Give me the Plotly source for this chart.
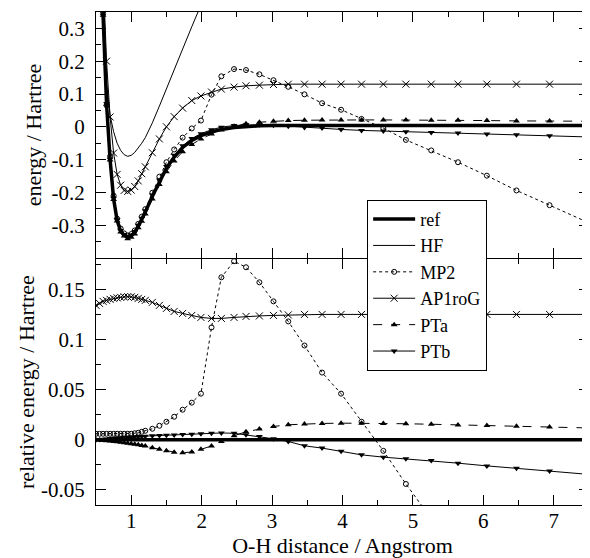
import plotly.graph_objects as go

# O-H distance grid (Angstrom)
r_oh = [0.50, 0.55, 0.60, 0.65, 0.70, 0.75, 0.80, 0.85, 0.90, 0.95,
        1.00, 1.05, 1.10, 1.15, 1.20, 1.30, 1.40, 1.50, 1.61, 1.73,
        1.86, 1.99, 2.14, 2.28, 2.46, 2.63, 2.82, 3.02, 3.23, 3.46,
        3.71, 3.98, 4.27, 4.58, 4.90, 5.26, 5.64, 6.05, 6.47, 6.94, 7.50]

# absolute energies (Hartree), upper panel
ref_e = [1.0, 0.62, 0.34, 0.07, -0.10, -0.22, -0.285, -0.318, -0.330, -0.337,
         -0.333, -0.322, -0.303, -0.282, -0.260, -0.212, -0.166, -0.126, -0.092, -0.063,
         -0.042, -0.027, -0.016, -0.008, -0.002, 0.001, 0.003, 0.004, 0.004, 0.004,
         0.004, 0.004, 0.004, 0.004, 0.004, 0.004, 0.004, 0.004, 0.004, 0.004, 0.004]
hf_e = [0.85, 0.55, 0.30, 0.13, 0.035, -0.015, -0.05, -0.072, -0.085, -0.09,
        -0.087, -0.078, -0.065, -0.05, -0.033, 0.012, 0.063, 0.117, 0.175, 0.237,
        0.305, 0.372, 0.45, 0.52, None, None, None, None, None, None,
        None, None, None, None, None, None, None, None, None, None, None]
mp2_e = [1.0, 0.63, 0.35, 0.065, -0.09, -0.21, -0.28, -0.31, -0.325, -0.331,
         -0.327, -0.316, -0.296, -0.274, -0.251, -0.201, -0.152, -0.108, -0.069, -0.033,
         -0.005, 0.019, 0.098, 0.154, 0.176, 0.173, 0.160, 0.142, 0.122, 0.099,
         0.072, 0.052, 0.024, -0.004, -0.040, -0.072, -0.108, -0.149, -0.194, -0.239, -0.293]
ap1rog_e = [1.1, 0.75, 0.47, 0.20, 0.03, -0.08, -0.145, -0.178, -0.194, -0.197,
            -0.193, -0.182, -0.165, -0.143, -0.122, -0.079, -0.037, 0.000, 0.031, 0.057,
            0.080, 0.094, 0.106, 0.115, 0.121, 0.125, 0.127, 0.129, 0.130, 0.130,
            0.130, 0.130, 0.130, 0.130, 0.130, 0.130, 0.130, 0.130, 0.130, 0.130, 0.130]
pta_e = [1.0, 0.62, 0.34, 0.069, -0.101, -0.222, -0.287, -0.321, -0.333, -0.341,
         -0.337, -0.327, -0.308, -0.288, -0.266, -0.220, -0.176, -0.137, -0.104, -0.076,
         -0.054, -0.037, -0.022, -0.010, 0.002, 0.009, 0.014, 0.017, 0.019, 0.020,
         0.021, 0.021, 0.021, 0.021, 0.021, 0.020, 0.020, 0.019, 0.018, 0.018, 0.017]
ptb_e = [1.0, 0.62, 0.34, 0.071, -0.099, -0.218, -0.283, -0.316, -0.328, -0.334,
         -0.330, -0.319, -0.300, -0.279, -0.256, -0.208, -0.162, -0.121, -0.087, -0.058,
         -0.036, -0.021, -0.009, -0.001, 0.004, 0.006, 0.006, 0.005, 0.002, -0.002,
         -0.004, -0.008, -0.011, -0.013, -0.015, -0.017, -0.019, -0.022, -0.024, -0.027, -0.031]

# energies relative to ref (Hartree), lower panel
ref_rel = [0.0] * 41
mp2_rel = [0.006, 0.006, 0.006, 0.006, 0.006, 0.006, 0.006, 0.006, 0.006, 0.006,
           0.006, 0.0065, 0.007, 0.008, 0.009, 0.011, 0.014, 0.018, 0.023, 0.030,
           0.037, 0.046, 0.112, 0.162, 0.178, 0.172, 0.157, 0.138, 0.118, 0.094,
           0.067, 0.046, 0.018, -0.011, -0.044, -0.080, -0.115, -0.150, -0.190, -0.235, -0.290]
ap1rog_rel = [0.134, 0.136, 0.138, 0.139, 0.140, 0.141, 0.1415, 0.142, 0.1425, 0.1427,
              0.1425, 0.142, 0.141, 0.140, 0.139, 0.137, 0.134, 0.131, 0.128, 0.126,
              0.124, 0.122, 0.121, 0.121, 0.122, 0.123, 0.1235, 0.124, 0.1245, 0.125,
              0.125, 0.125, 0.125, 0.125, 0.125, 0.125, 0.125, 0.125, 0.125, 0.125, 0.125]
pta_rel = [0.0, -0.0003, -0.0006, -0.001, -0.0013, -0.0017, -0.002, -0.0025, -0.003, -0.0035,
           -0.004, -0.0045, -0.005, -0.0057, -0.0063, -0.008, -0.0095, -0.011, -0.0123, -0.0128,
           -0.0122, -0.0095, -0.0062, -0.0017, 0.004, 0.008, 0.0108, 0.0133, 0.015, 0.0158,
           0.0163, 0.0166, 0.0166, 0.0163, 0.016, 0.0155, 0.0148, 0.0142, 0.0135, 0.0127, 0.0118]
ptb_rel = [0.0, 0.0003, 0.0006, 0.0009, 0.0012, 0.0015, 0.0018, 0.002, 0.0023, 0.0025,
           0.0028, 0.003, 0.0032, 0.0034, 0.0036, 0.004, 0.0043, 0.0046, 0.0049, 0.0052,
           0.0056, 0.006, 0.0066, 0.0068, 0.0065, 0.005, 0.0033, 0.001, -0.0017, -0.006,
           -0.0083, -0.0115, -0.015, -0.0173, -0.019, -0.0207, -0.0233, -0.026, -0.0283, -0.031, -0.0345]

x_ticks = [1, 2, 3, 4, 5, 6, 7]
x_labels = ["1", "2", "3", "4", "5", "6", "7"]
top_ticks = [-0.3, -0.2, -0.1, 0, 0.1, 0.2, 0.3]
top_labels = ["-0.3", "-0.2", "-0.1", "0", "0.1", "0.2", "0.3"]
bot_ticks = [-0.05, 0, 0.05, 0.1, 0.15]
bot_labels = ["-0.05", "0", "0.05", "0.1", "0.15"]

FONT = "Liberation Serif"

styles = [
    ("ref", dict(width=3.5), None),
    ("HF", dict(width=1), None),
    ("MP2", dict(width=1, dash="dot"), dict(symbol="circle-open", size=5, line=dict(width=1))),
    ("AP1roG", dict(width=1), dict(symbol="x-thin-open", size=7, line=dict(width=1))),
    ("PTa", dict(width=1, dash="dash"), dict(symbol="triangle-up", size=6)),
    ("PTb", dict(width=1), dict(symbol="triangle-down", size=6)),
]
top_data = [ref_e, hf_e, mp2_e, ap1rog_e, pta_e, ptb_e]
bot_data = [ref_rel, None, mp2_rel, ap1rog_rel, pta_rel, ptb_rel]

fig = go.Figure()
for (name, line, marker), ytop, ybot in zip(styles, top_data, bot_data):
    mode = "lines+markers" if marker else "lines"
    fig.add_trace(go.Scatter(
        x=r_oh, y=ytop, name=name, mode=mode,
        line=dict(color="black", **line),
        marker=dict(color="black", **marker) if marker else None,
        xaxis="x", yaxis="y", connectgaps=False,
    ))
    if ybot is not None:
        fig.add_trace(go.Scatter(
            x=r_oh, y=ybot, name=name, mode=mode, showlegend=False,
            line=dict(color="black", **line),
            marker=dict(color="black", **marker) if marker else None,
            xaxis="x2", yaxis="y2",
        ))

axis_common = dict(
    automargin=False,
    showline=True, linecolor="black", linewidth=1.2, mirror="allticks",
    ticks="inside", ticklen=10, tickwidth=1.2, tickcolor="black",
    showgrid=False, zeroline=False,
    tickfont=dict(family=FONT, size=21, color="black"),
)
minor_common = dict(ticks="inside", ticklen=5, tickwidth=1.2, tickcolor="black",
                    tickmode="linear")
x_common = dict(axis_common, range=[0.5, 7.5], tickmode="array",
                tickvals=x_ticks, ticktext=x_labels,
                minor=dict(minor_common, tick0=0.5, dtick=1))

# the page body adds an 8 px margin, so the figure is 8 px smaller on each axis
fig.update_layout(
    width=582, height=550,
    margin=dict(l=88, r=1, t=4, b=53),
    paper_bgcolor="white", plot_bgcolor="white",
    font=dict(family=FONT, size=22, color="black"),
    showlegend=True,
    xaxis=dict(x_common, domain=[0, 1], anchor="y", showticklabels=False),
    xaxis2=dict(x_common, domain=[0, 1], anchor="y2", matches="x",
                ticklabelstandoff=-3,
                title=dict(text="O-H distance / Angstrom", standoff=0,
                           font=dict(family=FONT, size=22))),
    yaxis=dict(axis_common, domain=[0.501, 1], anchor="x", range=[-0.4, 0.35],
               tickmode="array", tickvals=top_ticks, ticktext=top_labels,
               ticklabelstandoff=6,
               minor=dict(minor_common, tick0=0.05, dtick=0.1),
               title=dict(text="energy / Hartree", standoff=3,
                          font=dict(family=FONT, size=22))),
    yaxis2=dict(axis_common, domain=[0, 0.4985], anchor="x2", range=[-0.065, 0.18],
                tickmode="array", tickvals=bot_ticks, ticktext=bot_labels,
                ticklabelstandoff=6,
                minor=dict(minor_common, tick0=0.025, dtick=0.05),
                title=dict(text="relative energy / Hartree", standoff=0,
                           font=dict(family=FONT, size=22))),
    legend=dict(x=0.55, y=0.619, xanchor="left", yanchor="top",
                bgcolor="white", bordercolor="black", borderwidth=1,
                font=dict(family=FONT, size=18, color="black"),
                itemwidth=42, tracegroupgap=0,
                entrywidthmode="pixels", entrywidth=90),
)

fig.write_html("out.html")
